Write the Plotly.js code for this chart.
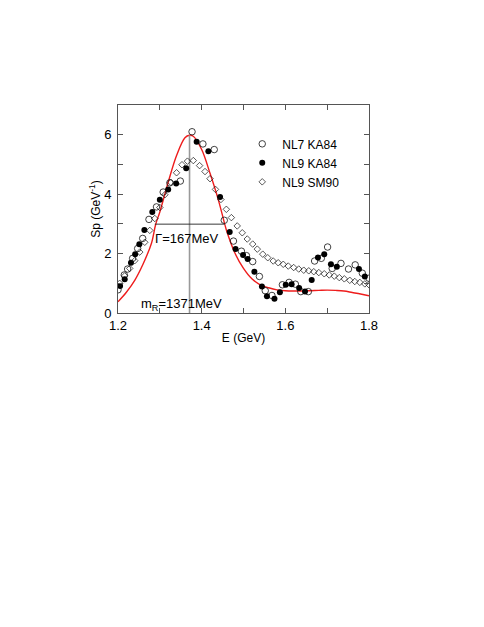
<!DOCTYPE html>
<html>
<head>
<meta charset="utf-8">
<script src="https://cdn.plot.ly/plotly-3.0.1.min.js"></script>
<style>
  body { margin: 0; background: #fff; }
  #chart { width: 484px; height: 627px; }
</style>
</head>
<body>
<div id="chart"></div>
<script>
// NL7 KA84 (open circles)
const nl7E = [1.200, 1.215, 1.223, 1.235, 1.247, 1.259, 1.274, 1.292, 1.308, 1.324, 1.349, 1.377, 1.403, 1.430,
  1.454, 1.476, 1.495, 1.507, 1.522, 1.538, 1.552, 1.568, 1.593, 1.609, 1.624, 1.637, 1.655, 1.670, 1.686, 1.701,
  1.712, 1.733, 1.751, 1.767, 1.784, 1.800];
const nl7Sp = [0.78, 1.28, 1.48, 1.84, 2.17, 2.51, 3.15, 3.57, 4.07, 4.38, 4.44, 6.10, 5.69, 5.50,
  3.12, 2.42, 2.08, 1.93, 1.73, 1.23, 0.75, 0.59, 0.95, 1.03, 0.97, 0.72, 0.72, 1.75, 1.84, 2.22,
  1.50, 1.67, 1.48, 1.62, 1.34, 1.17];

// NL9 KA84 (filled circles)
const nl9E = [1.205, 1.216, 1.231, 1.241, 1.251, 1.263, 1.282, 1.300, 1.320, 1.339, 1.363, 1.388, 1.416, 1.444,
  1.467, 1.481, 1.499, 1.510, 1.526, 1.544, 1.556, 1.574, 1.587, 1.601, 1.615, 1.633, 1.647, 1.663, 1.678, 1.693,
  1.709, 1.723, 1.776, 1.790];
const nl9Sp = [0.91, 1.14, 1.69, 1.98, 2.31, 2.79, 3.40, 3.81, 4.16, 4.36, 4.87, 5.76, 5.44, 3.90,
  2.73, 2.15, 1.95, 1.82, 1.39, 0.89, 0.56, 0.48, 0.70, 0.95, 0.97, 0.84, 0.72, 1.11, 1.87, 1.98,
  1.64, 1.56, 1.48, 1.23];

// NL9 SM90 (open diamonds)
const smE = [1.204, 1.216, 1.228, 1.240, 1.252, 1.264, 1.276, 1.288, 1.300, 1.312, 1.326, 1.340, 1.353, 1.366,
  1.380, 1.395, 1.408, 1.420, 1.433, 1.446, 1.459, 1.471, 1.485, 1.497, 1.509, 1.522, 1.533, 1.546, 1.558, 1.571,
  1.583, 1.595, 1.607, 1.620, 1.632, 1.644, 1.656, 1.668, 1.680, 1.693, 1.705, 1.717, 1.729, 1.741, 1.754, 1.766,
  1.778, 1.790, 1.800];
const smSp = [1.00, 1.25, 1.50, 1.76, 2.05, 2.38, 2.78, 3.18, 3.55, 3.98, 4.40, 4.72, 4.99, 5.11,
  5.13, 4.96, 4.76, 4.52, 4.16, 3.82, 3.49, 3.21, 2.93, 2.70, 2.49, 2.32, 2.15, 1.98, 1.86, 1.75,
  1.69, 1.64, 1.58, 1.53, 1.48, 1.44, 1.42, 1.39, 1.36, 1.32, 1.28, 1.24, 1.19, 1.15, 1.10, 1.06,
  1.03, 0.98, 0.95];

// fitted curve (red)
const fitE = [1.20, 1.22, 1.24, 1.26, 1.28, 1.29, 1.30, 1.32, 1.34, 1.36, 1.371, 1.38, 1.40, 1.42, 1.44, 1.455,
  1.46, 1.48, 1.50, 1.52, 1.54, 1.56, 1.58, 1.60, 1.62, 1.64, 1.66, 1.68, 1.70, 1.72, 1.74, 1.76, 1.78, 1.80];
const fitSp = [0.38, 0.70, 1.10, 1.65, 2.35, 2.98, 3.40, 4.40, 5.30, 5.90, 5.98, 5.95, 5.50, 4.70, 3.80, 3.00,
  2.75, 2.00, 1.50, 1.15, 0.95, 0.85, 0.78, 0.75, 0.74, 0.74, 0.75, 0.76, 0.77, 0.76, 0.74, 0.69, 0.64, 0.58];

// resonance mass and width markers
const mR = 1.371;
const peakSp = 5.98;
const gammaLo = 1.288;
const gammaHi = 1.455;
const halfMax = 2.99;

const traces = [
  { x: fitE, y: fitSp, mode: 'lines', line: { color: '#ee1c1c', width: 1.4, shape: 'spline' }, showlegend: false, hoverinfo: 'skip' },
  { x: [mR, mR], y: [0, peakSp], mode: 'lines', line: { color: '#999', width: 1.6 }, showlegend: false },
  { x: [gammaLo, gammaHi], y: [halfMax, halfMax], mode: 'lines', line: { color: '#222', width: 0.9 }, showlegend: false },
  { x: nl7E, y: nl7Sp, mode: 'markers', name: 'NL7 KA84',
    marker: { symbol: 'circle-open', size: 6.5, color: '#111', line: { width: 0.8 } } },
  { x: nl9E, y: nl9Sp, mode: 'markers', name: 'NL9 KA84',
    marker: { symbol: 'circle', size: 6, color: '#000' } },
  { x: smE, y: smSp, mode: 'markers', name: 'NL9 SM90',
    marker: { symbol: 'diamond-open', size: 5, color: '#111', line: { width: 0.7 } } }
];

const axisCommon = {
  showline: true, mirror: 'allticks', linecolor: '#555', linewidth: 1,
  ticks: 'inside', ticklen: 5, tickcolor: '#555', showgrid: false, zeroline: false,
  tickfont: { size: 13, color: '#000' }
};

const layout = {
  width: 484, height: 627,
  margin: { l: 118, r: 114.5, t: 104.5, b: 314 },
  paper_bgcolor: '#fff', plot_bgcolor: '#fff',
  font: { family: 'Liberation Sans, Arial, sans-serif', color: '#000' },
  xaxis: Object.assign({}, axisCommon, {
    range: [1.2, 1.8], dtick: 0.2, tick0: 1.2, tickformat: '.1f', ticklabelstandoff: 0,
    minor: { dtick: 0.1, ticks: 'inside', ticklen: 5, tickcolor: '#555' },
    title: { text: 'E (GeV)', font: { size: 12 }, standoff: 2 }
  }),
  yaxis: Object.assign({}, axisCommon, {
    range: [0, 7], dtick: 2, tick0: 0, ticklabelstandoff: 3,
    minor: { dtick: 1, ticks: 'inside', ticklen: 5, tickcolor: '#555' },
    title: { text: 'Sp (GeV<sup>-1</sup>)', font: { size: 12 }, standoff: 0 }
  }),
  legend: { x: 0.495, y: 0.883, xanchor: 'left', yanchor: 'top', bgcolor: 'rgba(0,0,0,0)',
    font: { size: 12 }, itemwidth: 30, tracegroupgap: 0 },
  annotations: [
    { x: 1.366, y: 2.52, xref: 'x', yref: 'y', text: 'Γ=167MeV', showarrow: false, font: { size: 13 } },
    { x: 1.351, y: 0.30, xref: 'x', yref: 'y', text: 'm<sub>R</sub>=1371MeV', showarrow: false, font: { size: 13 } }
  ]
};

Plotly.newPlot('chart', traces, layout, { displayModeBar: false, staticPlot: true });
</script>
</body>
</html>
